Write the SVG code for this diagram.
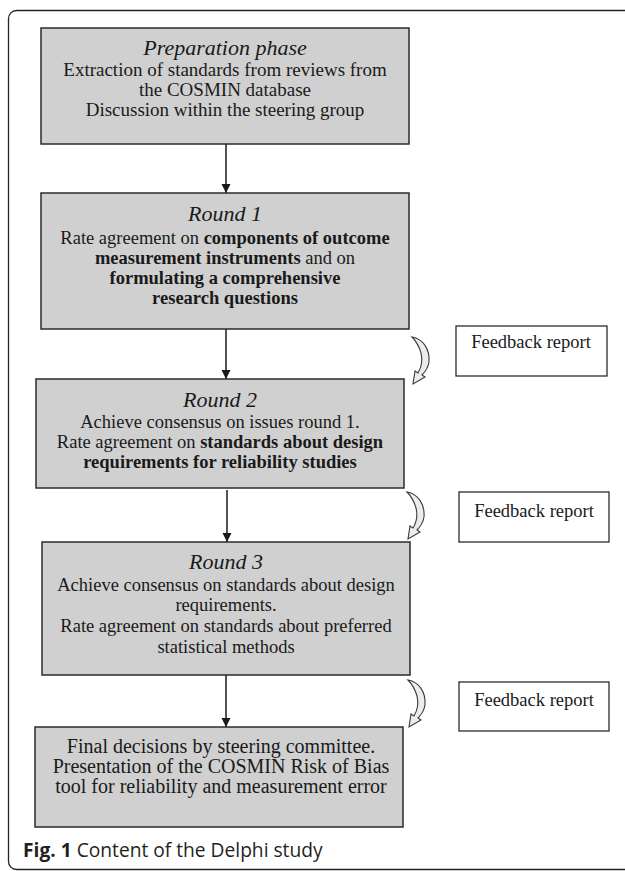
<svg xmlns="http://www.w3.org/2000/svg" width="625" height="871" viewBox="0 0 625 871">
<style>
.box{fill:#d0d0d0;stroke:#2b2b2b;stroke-width:1.5}
.fb{fill:#ffffff;stroke:#2b2b2b;stroke-width:1.3}
.t{font-family:"Liberation Serif","Times New Roman",serif;font-size:18.5px;fill:#1a1a1a;text-anchor:middle}
.ti{font-family:"Liberation Serif","Times New Roman",serif;font-size:22px;font-style:italic;fill:#1a1a1a;text-anchor:middle}
.b{font-weight:bold}
.line{stroke:#1a1a1a;stroke-width:1.5;fill:none}
.curve{fill:#ececec;stroke:#3a3a3a;stroke-width:1.1}
.cap{font-family:"Open Sans","Noto Sans",sans-serif;font-size:19.2px;fill:#231f20}
</style>
<defs>
<marker id="ah" markerWidth="10" markerHeight="10" refX="9" refY="5" orient="auto" markerUnits="userSpaceOnUse">
<path d="M0,0.5 L9,5 L0,9.5 Z" fill="#1a1a1a"/>
</marker>
<path id="carrow" d="M0,0 C11,2 18,12 17,25 C16,31 13,35 10,38 L13,40 L1,47 L3,34 L6,36 C9,31 11,24 9,16 C7,9 4,4 0,0 Z"/>
</defs>
<rect x="8.5" y="10.5" width="700" height="859" rx="8" fill="none" stroke="#222" stroke-width="1.3"/>
<g id="connectors">
<line class="line" x1="226" y1="144" x2="226" y2="193" marker-end="url(#ah)"/>
<line class="line" x1="226" y1="329" x2="226" y2="379" marker-end="url(#ah)"/>
<line class="line" x1="227" y1="490" x2="227" y2="542" marker-end="url(#ah)"/>
<line class="line" x1="226" y1="675" x2="226" y2="727" marker-end="url(#ah)"/>
<use href="#carrow" class="curve" transform="translate(412,337)"/>
<use href="#carrow" class="curve" transform="translate(407,492)"/>
<use href="#carrow" class="curve" transform="translate(408,680)"/>
</g>
<g id="prep">
<rect class="box" x="41" y="28" width="368" height="116"/>
<text class="ti" x="225" y="55">Preparation phase</text>
<text class="t" x="225" y="76" style="font-size:19px">Extraction of standards from reviews from</text>
<text class="t" x="225" y="96" style="font-size:19px">the COSMIN database</text>
<text class="t" x="225" y="116" style="font-size:19px">Discussion within the steering group</text>
</g>
<g id="round1">
<rect class="box" x="41" y="193" width="368" height="136"/>
<text class="ti" x="225" y="221">Round 1</text>
<text class="t" x="225" y="244">Rate agreement on <tspan class="b">components of outcome</tspan></text>
<text class="t" x="225" y="264"><tspan class="b">measurement instruments</tspan> and on</text>
<text class="t" x="225" y="284"><tspan class="b">formulating a comprehensive</tspan></text>
<text class="t" x="225" y="304"><tspan class="b">research questions</tspan></text>
</g>
<g id="feedback1">
<rect class="fb" x="456" y="326" width="151" height="50"/>
<text class="t" x="531" y="348">Feedback report</text>
</g>
<g id="round2">
<rect class="box" x="36" y="379" width="368" height="109"/>
<text class="ti" x="220" y="407">Round 2</text>
<text class="t" x="220" y="428">Achieve consensus on issues round 1.</text>
<text class="t" x="220" y="448">Rate agreement on <tspan class="b">standards about design</tspan></text>
<text class="t" x="220" y="468"><tspan class="b">requirements for reliability studies</tspan></text>
</g>
<g id="feedback2">
<rect class="fb" x="459" y="492" width="150" height="50"/>
<text class="t" x="534" y="517">Feedback report</text>
</g>
<g id="round3">
<rect class="box" x="42" y="542" width="368" height="133"/>
<text class="ti" x="226" y="569">Round 3</text>
<text class="t" x="226" y="591">Achieve consensus on standards about design</text>
<text class="t" x="226" y="611">requirements.</text>
<text class="t" x="226" y="632">Rate agreement on standards about preferred</text>
<text class="t" x="226" y="653">statistical methods</text>
</g>
<g id="feedback3">
<rect class="fb" x="459" y="682" width="150" height="49"/>
<text class="t" x="534" y="706">Feedback report</text>
</g>
<g id="final">
<rect class="box" x="35" y="727" width="368" height="100"/>
<text class="t" x="221" y="753" style="font-size:20px">Final decisions by steering committee.</text>
<text class="t" x="221" y="773" style="font-size:20px">Presentation of the COSMIN Risk of Bias</text>
<text class="t" x="221" y="793" style="font-size:20px">tool for reliability and measurement error</text>
</g>
<text class="cap" x="23" y="857"><tspan font-weight="bold">Fig. 1</tspan> Content of the Delphi study</text>
</svg>
